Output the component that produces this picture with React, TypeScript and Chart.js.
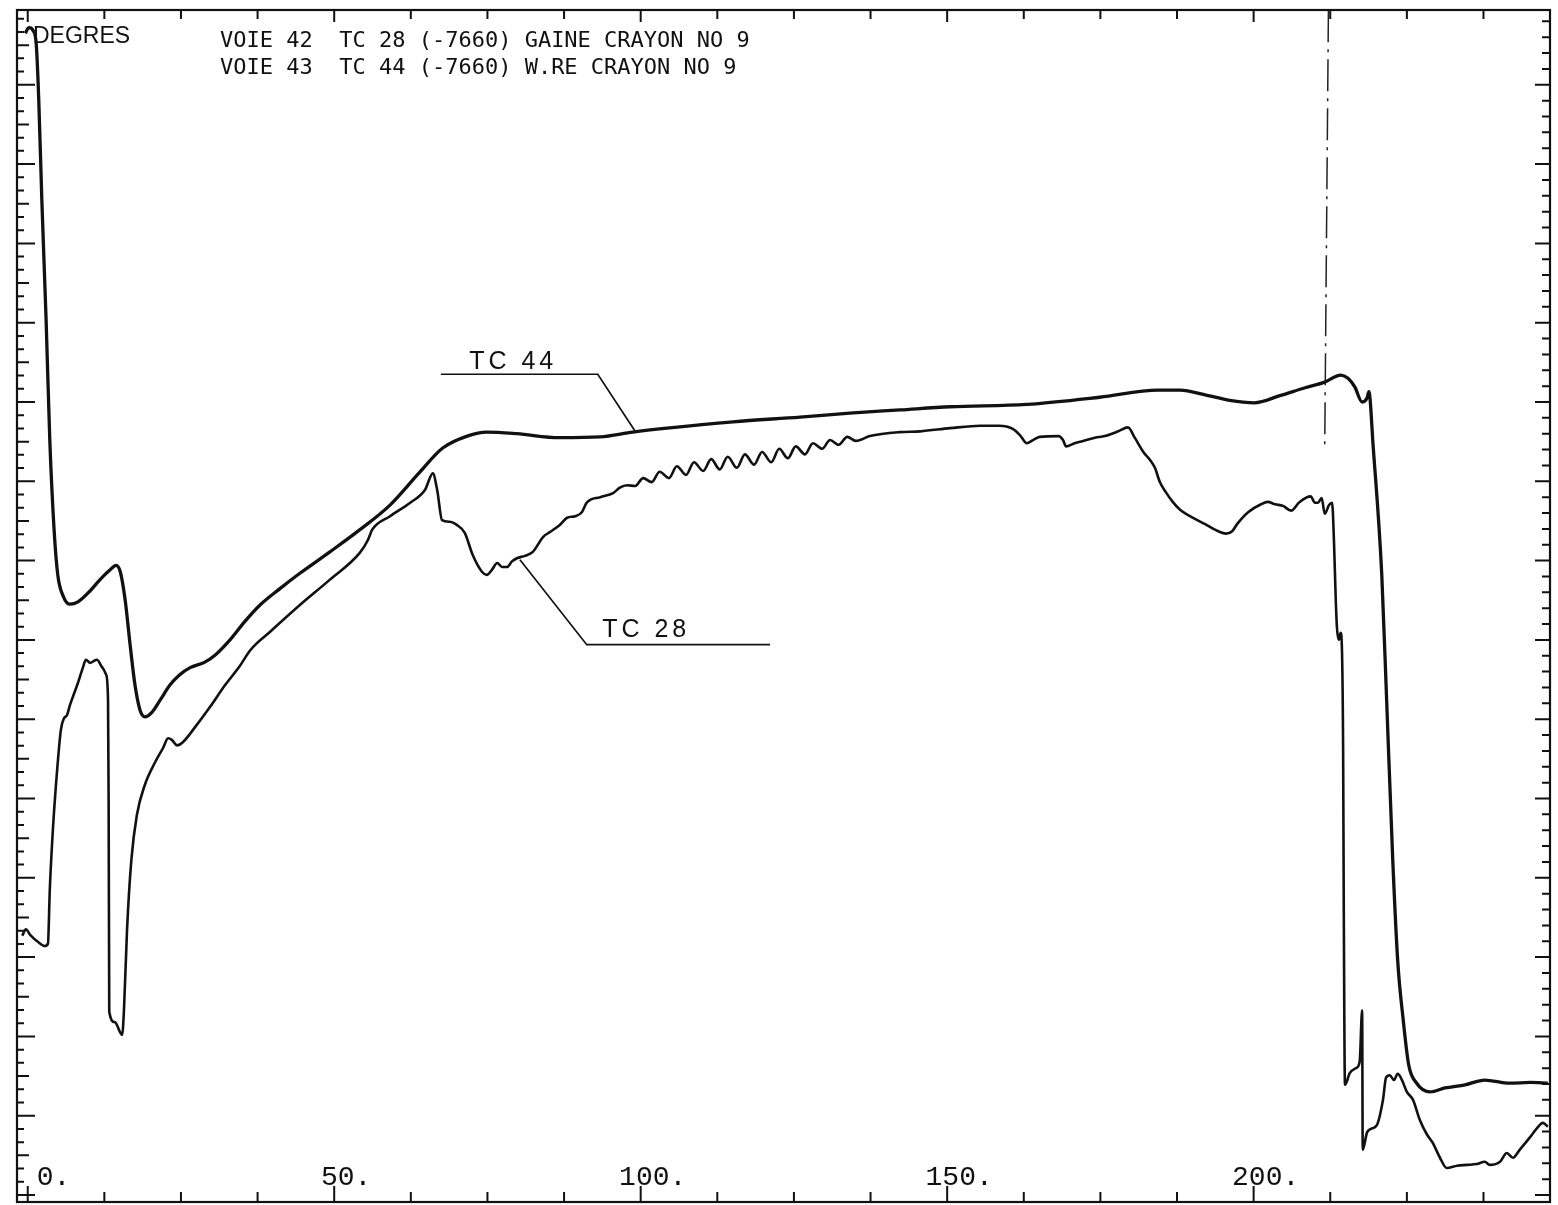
import React, { useEffect, useRef } from "react";
import { Chart, registerables } from "chart.js";

Chart.register(...registerables);

// ---- axis definitions ----
const xMin = -1.75;
const xMax = 248.35;
const yMin = -8.8;
const yMax = 1494.3;
const xTickStep = 12.5;
const xMajorStep = 50;
const xLabelValues = [0, 50, 100, 150, 200];
const xTickLabels = ["0.", "50.", "100.", "150.", "200."];
const yLeftMinorStep = 100 / 6;
const yRightMinorStep = 20;
const yMajorStep = 100;

// ---- texts ----
const yUnitLabel = "DEGRES";
const titleLines = [
  "VOIE 42  TC 28 (-7660) GAINE CRAYON NO 9",
  "VOIE 43  TC 44 (-7660) W.RE CRAYON NO 9",
];
const curveLabelTexts = ["TC 44", "TC 28"];
const curveLabelX = [79.2, 100.9];
const curveLabelY = [1050, 712];

// ---- series: TC 44 (x, degrees) ----
const tc44Points: [number, number][] = [
  [-0.4, 1465], [0.2, 1472], [0.9, 1468], [1.4, 1450], [1.8, 1381], [2.3, 1255],
  [3.0, 1103], [3.6, 952], [4.3, 839], [4.9, 782], [5.8, 755], [6.9, 745],
  [8.2, 748], [10.2, 762], [11.8, 776], [13.4, 788], [14.4, 794], [15.1, 786],
  [15.9, 750], [16.7, 694], [17.5, 643], [18.3, 612], [19.1, 603], [20.3, 609],
  [21.6, 624], [23.2, 643], [24.8, 656], [26.5, 665], [28.9, 672], [30.6, 681],
  [33.0, 700], [35.4, 723], [37.9, 744], [41.2, 765], [44.4, 784], [49.3, 811],
  [54.2, 839], [59.1, 870], [64.0, 912], [67.7, 942], [71.7, 957], [74.9, 962],
  [79.8, 960], [86.8, 955], [93.4, 956], [98.7, 962], [104.3, 967], [115.1, 975],
  [126.0, 981], [134.1, 986], [142.3, 990], [150.5, 994], [163.0, 997], [174.9, 1006],
  [184.4, 1015], [188.0, 1015], [192.1, 1009], [196.1, 1002], [200.1, 999], [204.3, 1008],
  [208.4, 1018], [211.6, 1025], [214.2, 1034], [215.4, 1030], [216.5, 1019], [217.7, 1000],
  [218.5, 1005], [218.8, 1013], [219.5, 944], [220.9, 783], [221.7, 624], [222.7, 422],
  [223.5, 296], [224.4, 221], [225.3, 164], [226.6, 141], [228.8, 130], [231.2, 135],
  [234.5, 139], [237.7, 145], [241.8, 141], [245.1, 142], [248.0, 141],
];

// ---- series: TC 28 (x, degrees) ----
const tc28Points: [number, number][] = [
  [-0.9, 327], [-0.3, 335], [0.4, 328], [1.7, 319], [2.8, 314], [3.3, 317],
  [3.6, 385], [4.1, 460], [4.8, 536], [5.4, 586], [5.9, 601], [6.4, 605],
  [6.9, 618], [7.4, 629], [8.2, 646], [9.0, 665], [9.5, 675], [10.2, 671],
  [10.7, 673], [11.3, 675], [12.1, 666], [12.8, 656], [13.1, 624], [13.2, 498],
  [13.3, 231], [14.2, 218], [15.4, 202], [15.7, 233], [16.2, 334], [16.9, 422],
  [17.8, 479], [19.1, 517], [20.8, 546], [22.1, 564], [22.9, 576], [23.5, 574],
  [24.4, 567], [25.3, 571], [27.3, 590], [29.7, 615], [32.2, 643], [34.6, 667],
  [36.3, 687], [39.5, 710], [44.4, 744], [49.3, 776], [54.2, 810], [55.5, 826],
  [56.2, 839], [59.1, 856], [62.4, 873], [64.8, 889], [66.1, 910], [66.8, 889],
  [67.6, 851], [68.9, 849], [70.0, 845], [71.3, 835], [72.6, 807], [74.1, 786],
  [74.9, 782], [75.7, 788], [76.6, 797], [77.4, 792], [78.2, 792], [79.0, 799],
  [79.8, 803], [81.1, 806], [82.4, 811], [84.1, 830], [85.2, 836], [86.8, 845],
  [88.0, 854], [89.3, 856], [90.4, 861], [91.2, 873], [93.4, 880], [95.5, 885],
  [96.6, 892], [97.8, 895], [99.1, 894], [100.4, 904], [101.8, 899], [103.1, 912],
  [104.6, 904], [105.9, 919], [107.4, 908], [108.7, 924], [110.2, 913], [111.5, 928],
  [112.9, 915], [114.2, 931], [115.7, 917], [117.0, 934], [118.5, 921], [119.8, 937],
  [121.3, 924], [122.6, 941], [124.0, 929], [125.3, 944], [126.8, 934], [128.1, 948],
  [129.6, 941], [130.9, 952], [132.3, 946], [133.7, 956], [135.1, 951], [137.4, 957],
  [142.3, 962], [145.6, 963], [150.5, 967], [155.4, 970], [158.5, 970], [160.7, 966],
  [161.9, 958], [163.0, 948], [164.0, 952], [165.1, 956], [168.2, 957], [168.9, 952],
  [169.4, 944], [170.8, 948], [172.3, 951], [174.1, 955], [175.7, 957], [177.9, 963],
  [179.5, 968], [180.6, 955], [182.1, 936], [183.1, 927], [183.9, 917], [184.7, 899],
  [185.7, 886], [186.8, 874], [188.0, 864], [189.6, 856], [192.1, 846], [193.7, 839],
  [195.5, 834], [196.5, 837], [197.3, 846], [199.1, 861], [201.2, 871], [202.3, 874],
  [203.5, 871], [204.8, 869], [206.1, 863], [207.5, 874], [209.3, 881], [210.0, 873],
  [210.5, 873], [211.1, 879], [211.6, 859], [212.3, 870], [212.8, 873], [213.1, 826],
  [213.4, 750], [213.6, 715], [213.9, 700], [214.2, 709], [214.4, 690], [214.6, 561],
  [214.7, 372], [214.9, 139], [215.7, 154], [216.7, 160], [217.3, 168], [217.7, 233],
  [217.8, 57], [218.5, 79], [219.3, 84], [220.1, 88], [221.1, 120], [221.6, 148],
  [222.2, 151], [222.9, 145], [223.5, 153], [224.2, 145], [225.0, 130], [226.0, 120],
  [227.1, 95], [228.3, 76], [229.2, 66], [230.4, 47], [231.5, 34], [233.2, 37],
  [234.8, 38], [236.4, 39], [237.7, 42], [238.5, 38], [240.2, 42], [241.3, 53],
  [242.3, 47], [243.4, 57], [245.1, 73], [246.2, 84], [247.2, 91], [248.0, 86],
];

// ---- annotations: vertical dash-dot marker and label leader lines ----
const markerPoints: [number, number][] = [[212.2, 1494], [211.6, 945]];
const tc44Leader: [number, number][] = [[67.4, 1035], [93.0, 1035], [99.1, 963]];
const tc28Leader: [number, number][] = [[121.1, 694], [91.2, 694], [80.3, 801]];

const toXY = (pts: [number, number][]) => pts.map(([x, y]) => ({ x, y }));

const framePlugin = {
  id: "plotterFrame",
  afterDatasetsDraw(chart: any) {
    const { ctx, chartArea, scales } = chart;
    const xs = scales.x;
    const ys = scales.y;
    const { left, right, top, bottom } = chartArea;
    ctx.save();
    ctx.strokeStyle = "#111";
    ctx.fillStyle = "#111";
    // frame
    ctx.lineWidth = 2.2;
    ctx.strokeRect(left, top, right - left, bottom - top);
    ctx.lineWidth = 2;
    ctx.beginPath();
    // bottom & top ticks (inward)
    for (let k = 0; k * xTickStep <= xMax; k++) {
      const v = k * xTickStep;
      const px = xs.getPixelForValue(v);
      const major = Math.abs(v % xMajorStep) < 1e-6;
      ctx.moveTo(px, bottom);
      ctx.lineTo(px, bottom - (major ? 16 : 10));
      ctx.moveTo(px, top);
      ctx.lineTo(px, top + (major ? 12 : 9));
    }
    // left ticks
    for (let k = 0; k * yLeftMinorStep <= yMax; k++) {
      const py = ys.getPixelForValue(k * yLeftMinorStep);
      const len = k % 6 === 0 ? 18 : k % 3 === 0 ? 12 : 7;
      ctx.moveTo(left, py);
      ctx.lineTo(left + len, py);
    }
    // right ticks
    for (let k = 0; k * yRightMinorStep <= yMax; k++) {
      const v = k * yRightMinorStep;
      const py = ys.getPixelForValue(v);
      const len = Math.abs(v % yMajorStep) < 1e-6 ? 15 : 8;
      ctx.moveTo(right, py);
      ctx.lineTo(right - len, py);
    }
    ctx.stroke();

    // x labels inside the frame
    ctx.font = "28px 'Liberation Mono', monospace";
    ctx.textBaseline = "alphabetic";
    xLabelValues.forEach((v, i) => {
      const px = xs.getPixelForValue(v);
      if (i === 0) {
        ctx.textAlign = "left";
        ctx.fillText(xTickLabels[i], px + 9, bottom - 17);
      } else {
        ctx.textAlign = "center";
        ctx.fillText(xTickLabels[i], px + 12, bottom - 17);
      }
    });

    // unit label and title
    ctx.textAlign = "left";
    ctx.font = "23px 'Liberation Sans', Arial, sans-serif";
    ctx.fillText(yUnitLabel, left + 16, top + 33);
    ctx.font = "22px 'DejaVu Sans Mono', monospace";
    titleLines.forEach((t, i) => {
      ctx.fillText(t, left + 203, top + 37 + i * 27);
    });

    // curve labels
    ctx.font = "25px 'Liberation Sans', Arial, sans-serif";
    ctx.textAlign = "center";
    ctx.textBaseline = "middle";
    (ctx as any).letterSpacing = "4px";
    curveLabelTexts.forEach((t, i) => {
      ctx.fillText(t, xs.getPixelForValue(curveLabelX[i]), ys.getPixelForValue(curveLabelY[i]));
    });
    ctx.restore();
  },
};

export default function App() {
  const canvasRef = useRef<HTMLCanvasElement | null>(null);

  useEffect(() => {
    const canvas = canvasRef.current;
    if (!canvas) return;
    const chart = new Chart(canvas, {
      type: "line",
      data: {
        datasets: [
          {
            label: "TC 44",
            data: toXY(tc44Points),
            borderColor: "#111",
            borderWidth: 3.3,
            cubicInterpolationMode: "monotone",
            pointRadius: 0,
            fill: false,
          },
          {
            label: "TC 28",
            data: toXY(tc28Points),
            borderColor: "#111",
            borderWidth: 2.6,
            cubicInterpolationMode: "monotone",
            pointRadius: 0,
            fill: false,
          },
          {
            label: "marker",
            data: toXY(markerPoints),
            borderColor: "#222",
            borderWidth: 1.5,
            borderDash: [32, 7, 3, 7],
            tension: 0,
            pointRadius: 0,
            fill: false,
          },
          {
            label: "tc44 leader",
            data: toXY(tc44Leader),
            borderColor: "#111",
            borderWidth: 1.7,
            tension: 0,
            pointRadius: 0,
            fill: false,
          },
          {
            label: "tc28 leader",
            data: toXY(tc28Leader),
            borderColor: "#111",
            borderWidth: 1.7,
            tension: 0,
            pointRadius: 0,
            fill: false,
          },
        ],
      } as any,
      options: {
        responsive: false,
        animation: false,
        devicePixelRatio: 1,
        layout: { padding: { left: 17, top: 10, right: 8, bottom: 3 } },
        scales: {
          x: { type: "linear", min: xMin, max: xMax, display: false },
          y: { type: "linear", min: yMin, max: yMax, display: false },
        },
        plugins: {
          legend: { display: false },
          tooltip: { enabled: false },
        },
        elements: { point: { radius: 0 } },
      } as any,
      plugins: [framePlugin],
    });
    return () => chart.destroy();
  }, []);

  return (
    <div
      style={{
        position: "absolute",
        left: 0,
        top: 0,
        width: 1558,
        height: 1205,
        background: "#fff",
        overflow: "hidden",
      }}
    >
      <canvas ref={canvasRef} width={1558} height={1205} style={{ display: "block" }} />
    </div>
  );
}
